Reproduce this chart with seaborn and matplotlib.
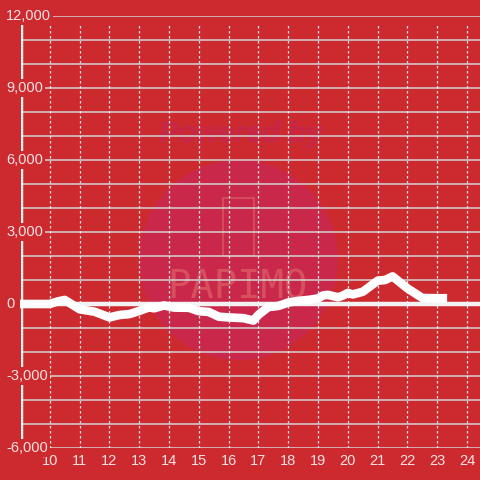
import matplotlib
matplotlib.use("Agg")
import matplotlib.pyplot as plt
from matplotlib.patches import Ellipse, Rectangle
import seaborn as sns
import pandas as pd

# hour of day vs. cumulative value
hours = [9.0, 10.0, 10.25, 10.5, 11.0, 11.5, 12.0, 12.33, 12.67, 13.0, 13.33, 13.5,
         13.83, 14.17, 14.67, 15.0, 15.33, 15.67, 16.0, 16.5, 16.83, 17.0, 17.33,
         17.67, 18.0, 18.33, 18.67, 19.0, 19.17, 19.33, 19.67, 19.83, 20.0, 20.17,
         20.5, 21.0, 21.25, 21.5, 22.0, 22.5, 23.0, 23.33]
values = [0, 0, 100, 170, -220, -320, -560, -460, -420, -290, -140, -180,
          -60, -150, -160, -300, -330, -530, -560, -590, -690, -450, -130,
          -80, 60, 130, 170, 230, 360, 380, 280, 350, 460, 400,
          510, 970, 1000, 1150, 650, 250, 240, 240]

x_ticks = list(range(10, 25))
y_grid = list(range(-6000, 12001, 1000))
y_label_vals = [12000, 9000, 6000, 3000, 0, -3000, -6000]
y_labels = ["12,000", "9,000", "6,000", "3,000", "0", "-3,000", "-6,000"]

df = pd.DataFrame({"hour": hours, "value": values})

red = "#cd2a30"
txt = "#f6e2e2"
sns.set_style("white")
plt.rcParams["font.family"] = ["Liberation Sans", "DejaVu Sans"]

fig = plt.figure(figsize=(4.8, 4.8), dpi=100, facecolor=red)
ax = fig.add_axes([21 / 480, 32 / 480, 459 / 480, 432 / 480])
ax.set_facecolor(red)

x0 = 10 - 29 / 30
ax.set_xlim(x0, 24 + 13 / 30)
ax.set_ylim(-6000, 12000)

# watermark
ax.add_patch(Ellipse((16.33, 1830), 200 / 30, 200 / 24 * 1000, color="#c9284a", zorder=0.5, lw=0))
ax.text(16.4, 7100, "Powered by", ha="center", va="center", fontsize=21, fontweight="bold",
        style="italic", color="#c5264a", zorder=0.6)
ax.add_patch(Rectangle((15.8, 2000), 1.05, 2400, fill=False, ec="#d6505e", lw=1.3, zorder=0.6))
ax.text(16.3, 700, "PAPIMO", ha="center", va="center", fontsize=28, color="#d6505e",
        zorder=0.6, family="DejaVu Sans Mono")

# grid
ax.hlines(y_grid, x0, 25, color="#d4d4d4", lw=1.1, zorder=1)
ax.vlines(x_ticks, -6000, 11700, color="#e6e6e6", lw=0.9, linestyles=(0, (2, 2)), zorder=1)
ax.axvline(x0, color="#f2f2f2", lw=3.2, zorder=1.5)
ax.axhline(0, color="#f2f2f2", lw=3.2, zorder=2)

sns.lineplot(data=df, x="hour", y="value", ax=ax, color="white", lw=6.2,
             zorder=3, clip_on=False, solid_joinstyle="round", solid_capstyle="butt")

for s in ax.spines.values():
    s.set_visible(False)

ax.set_xticks(x_ticks)
ax.set_yticks([])
ax.set_xlabel("")
ax.set_ylabel("")
ax.tick_params(axis="x", length=0, labelsize=10.5, labelcolor=txt, pad=4)

# y labels sit over the axis line with a red backing
for v, lab in zip(y_label_vals, y_labels):
    ax.text(10 - 44 / 30, v, lab, ha="left", va="center", fontsize=10.5, color=txt,
            zorder=2.8, clip_on=False,
            bbox=dict(facecolor=red, edgecolor="none", pad=1.5))

fig.savefig("out.png", dpi=100, facecolor=red)
